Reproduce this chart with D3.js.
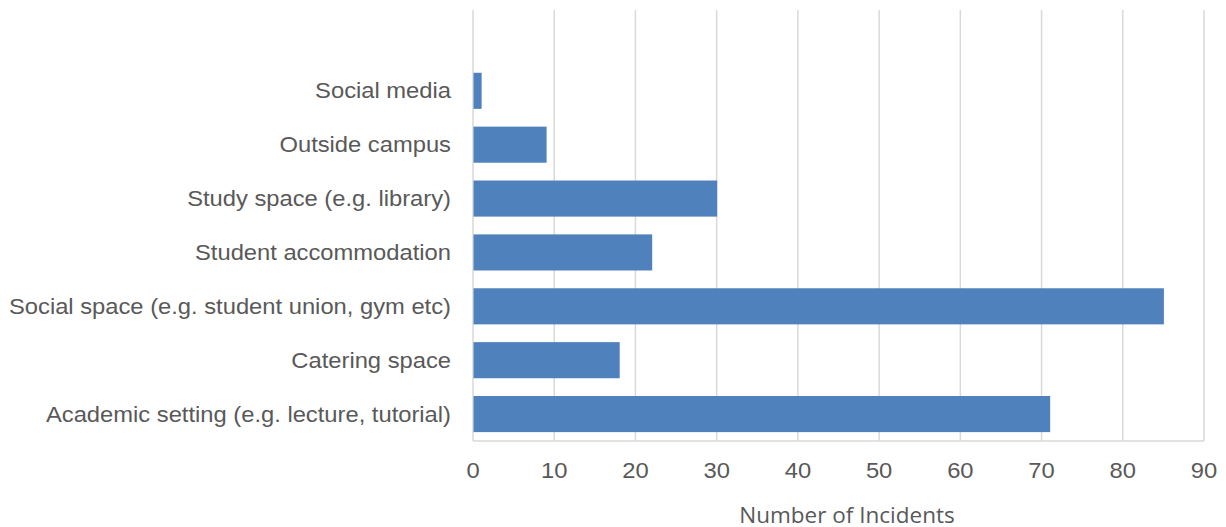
<!DOCTYPE html>
<html>
<head>
<meta charset="utf-8">
<script src="https://cdn.jsdelivr.net/npm/d3@7"></script>
<style>
  html, body { margin: 0; padding: 0; background: #fff; }
  svg { display: block; }
</style>
</head>
<body>
<svg id="chart" width="1226" height="527"></svg>
<script>
// Incident locations, listed top to bottom
const categories = [
  "Social media",
  "Outside campus",
  "Study space (e.g. library)",
  "Student accommodation",
  "Social space (e.g. student union, gym etc)",
  "Catering space",
  "Academic setting (e.g. lecture, tutorial)"
];
const incidents = [1, 9, 30, 22, 85, 18, 71];
const xTicks = [0, 10, 20, 30, 40, 50, 60, 70, 80, 90];
const xTitle = "Number of Incidents";

const svg = d3.select("#chart");
const plot = { left: 473, right: 1204, top: 10, bottom: 441 };
const step = (plot.bottom - plot.top) / (categories.length + 1);
const stretch = 1.08; // slightly wide label lettering

const x = d3.scaleLinear().domain([0, 90]).range([plot.left, plot.right]);
const y = d3.scaleBand()
  .domain(categories)
  .range([plot.top + step, plot.bottom])
  .paddingInner(0.33)
  .paddingOuter(0.165);

// vertical gridlines
svg.append("g")
  .selectAll("line")
  .data(xTicks)
  .join("line")
  .attr("x1", d => x(d)).attr("x2", d => x(d))
  .attr("y1", plot.top).attr("y2", plot.bottom)
  .attr("stroke", "#d9d9d9")
  .attr("stroke-width", 1.5);

// bottom axis line
svg.append("line")
  .attr("x1", plot.left).attr("x2", plot.right)
  .attr("y1", plot.bottom).attr("y2", plot.bottom)
  .attr("stroke", "#d9d9d9")
  .attr("stroke-width", 1.5);

// bars
svg.append("g")
  .selectAll("rect")
  .data(categories.map((c, i) => ({ c, v: incidents[i] })))
  .join("rect")
  .attr("x", x(0) + 0.5)
  .attr("y", d => y(d.c))
  .attr("width", d => x(d.v) - x(0))
  .attr("height", y.bandwidth())
  .attr("fill", "#4f81bd");

// category labels
svg.append("g")
  .selectAll("text")
  .data(categories)
  .join("text")
  .attr("transform", d => `translate(451,${y(d) + y.bandwidth() / 2 + 7.5}) scale(${stretch},1)`)
  .attr("text-anchor", "end")
  .attr("font-family", "Liberation Sans, Arial, sans-serif")
  .attr("font-size", 22)
  .attr("fill", "#595959")
  .text(d => d);

// x tick labels
svg.append("g")
  .selectAll("text")
  .data(xTicks)
  .join("text")
  .attr("transform", d => `translate(${x(d)},478) scale(${stretch},1)`)
  .attr("text-anchor", "middle")
  .attr("font-family", "Liberation Sans, Arial, sans-serif")
  .attr("font-size", 22)
  .attr("fill", "#595959")
  .text(d => d);

// axis title
svg.append("text")
  .attr("x", 847)
  .attr("y", 523)
  .attr("text-anchor", "middle")
  .attr("font-family", "Open Sans, sans-serif")
  .attr("font-size", 22.5)
  .attr("fill", "#595959")
  .text(xTitle);
</script>
</body>
</html>
